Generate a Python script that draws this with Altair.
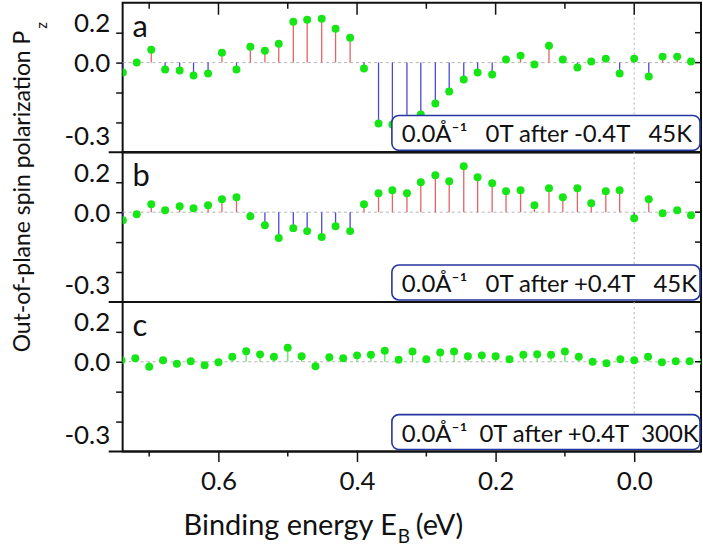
import altair as alt
import pandas as pd

# ---------------- data ----------------
energy_ab = [0.738, 0.718, 0.697, 0.677, 0.656, 0.636, 0.615, 0.595, 0.574, 0.554,
             0.533, 0.513, 0.492, 0.472, 0.451, 0.431, 0.410, 0.390, 0.369, 0.349,
             0.328, 0.308, 0.287, 0.267, 0.246, 0.226, 0.205, 0.185, 0.164, 0.144,
             0.123, 0.103, 0.082, 0.062, 0.041, 0.021, 0.000, -0.021, -0.041, -0.062,
             -0.082, -0.103]
pz_a = [-0.05, 0.0, 0.065, -0.035, -0.04, -0.065, -0.055, 0.05, -0.035, 0.08,
        0.06, 0.095, 0.205, 0.215, 0.22, 0.17, 0.125, -0.03, -0.305, -0.31,
        -0.30, -0.26, -0.205, -0.145, -0.085, -0.05, -0.06, 0.015, 0.035, -0.01,
        0.085, 0.015, -0.025, 0.005, 0.02, -0.055, 0.02, -0.07, 0.03, 0.03,
        0.005, 0.09]
pz_b = [-0.04, -0.01, 0.04, 0.01, 0.03, 0.02, 0.035, 0.065, 0.075, -0.02,
        -0.065, -0.13, -0.08, -0.095, -0.125, -0.07, -0.095, 0.04, 0.095, 0.11,
        0.095, 0.15, 0.185, 0.155, 0.23, 0.175, 0.145, 0.105, 0.11, 0.035,
        0.12, 0.075, 0.12, 0.045, 0.105, 0.11, -0.03, 0.065, -0.005, 0.01,
        -0.015, -0.01]
energy_c = [0.74, 0.72, 0.70, 0.68, 0.66, 0.64, 0.62, 0.60, 0.58, 0.56,
            0.54, 0.52, 0.50, 0.48, 0.46, 0.44, 0.42, 0.40, 0.38, 0.36,
            0.34, 0.32, 0.30, 0.28, 0.26, 0.24, 0.22, 0.20, 0.18, 0.16,
            0.14, 0.12, 0.10, 0.08, 0.06, 0.04, 0.02, 0.00, -0.02, -0.04,
            -0.06, -0.08, -0.10]
pz_c = [0.007, 0.017, -0.025, 0.007, -0.01, 0.002, -0.018, -0.003, 0.025, 0.053,
        0.037, 0.025, 0.07, 0.028, -0.023, 0.023, 0.018, 0.032, 0.035, 0.055,
        0.01, 0.052, 0.012, 0.047, 0.052, 0.028, 0.032, 0.028, 0.012, 0.035,
        0.038, 0.035, 0.052, 0.025, 0.0, -0.008, 0.013, 0.008, 0.025, -0.003,
        0.003, 0.003, 0.0]

x_major = [0.6, 0.4, 0.2, 0.0]
x_minor = [0.7, 0.5, 0.3, 0.1]
y_ticks = [0.15, 0.0, -0.15, -0.3]
y_label_values = [0.2, 0.0, -0.3]
y_label_texts = ["0.2", "0.0", "-0.3"]
fermi = [0.0]
panel_letters = ["a", "b", "c"]
GAP = "\u2002\u00a0"
GAP_C = "\u2002"
legend_texts = [
    "0.0Å⁻¹" + GAP + "0T after -0.4T" + GAP + "45K",
    "0.0Å⁻¹" + GAP + "0T after +0.4T" + GAP + "45K",
    "0.0Å⁻¹" + GAP_C + "0T after +0.4T" + GAP_C + "300K",
]
y_title = "Out-of-plane spin polarization P"
y_title_sub = "z"
x_title = "Binding energy E"
x_title_sub = "B"
x_title_end = "(eV)"

# ---------------- styling ----------------
W, H = 580, 150
FONT = "Lato"
GREEN = "#16e616"
RED = "#e26464"
BLUE = "#4b4bd6"
STEM_GREEN = "#62e462"

xscale = alt.Scale(domain=[-0.0964, 0.7383], reverse=True, nice=False, zero=False)
yscale = alt.Scale(domain=[-0.45, 0.3], nice=False, zero=False)

label_expr = " : ".join(
    f"datum.value == {v} ? '{t}'" for v, t in zip(y_label_values, y_label_texts)
) + " : ''"

yaxis = alt.Axis(
    values=[0.2] + y_ticks,
    labelExpr=label_expr,
    title=None, grid=False, domain=False,
    tickSize=7, tickWidth=1.5, tickColor="#111",
    tickOpacity={"condition": {"test": "datum.value == 0.2", "value": 0}, "value": 1},
    labelOffset={"condition": {"test": "datum.value < -0.2", "value": 14}, "value": 1},
    labelFont=FONT, labelFontSize=26, labelColor="#111", labelPadding=6,
    labelOverlap=False,
)
xaxis_bottom = alt.Axis(
    values=x_major, format=".1f", title=None, grid=False, domain=False,
    tickSize=10, tickWidth=1.5, tickColor="#111",
    labelFont=FONT, labelFontSize=26, labelColor="#111", labelPadding=7,
    labelFlush=False, labelOverlap=False,
)


def make_panel(i, energies, values, signed):
    is_bottom = i == 2
    xaxis = xaxis_bottom if is_bottom else None
    X = alt.X("E:Q", scale=xscale, axis=xaxis, title=None)
    Y = alt.Y("P:Q", scale=yscale, axis=yaxis, title=None)

    df = pd.DataFrame({"E": energies, "P": values})
    df["zero"] = 0.0
    df["sign"] = ["pos" if v >= 0 else "neg" for v in values]
    base = alt.Chart(df)

    layers = []
    layers.append(
        alt.Chart(pd.DataFrame({"P": [0.0]})).mark_rule(
            color="#b5b5b5", strokeDash=[3, 3], strokeWidth=1
        ).encode(y=Y, x=alt.value(0), x2=alt.value(W))
    )
    layers.append(
        alt.Chart(pd.DataFrame({"E": fermi})).mark_rule(
            color="#bcbcbc", strokeDash=[2, 3], strokeWidth=1.2
        ).encode(x=X, y=alt.value(0), y2=alt.value(H))
    )
    if signed:
        stems = base.mark_rule(strokeWidth=1.3, clip=True).encode(
            x=X, y=Y, y2=alt.Y2("zero:Q"),
            color=alt.Color("sign:N", scale=alt.Scale(domain=["pos", "neg"], range=[RED, BLUE]),
                            legend=None),
        )
    else:
        stems = base.mark_rule(strokeWidth=1.3, clip=True, color=STEM_GREEN).encode(
            x=X, y=Y, y2=alt.Y2("zero:Q"))
    layers.append(stems)
    layers.append(
        base.mark_circle(size=64, color=GREEN, opacity=1, clip=True).encode(x=X, y=Y)
    )
    # inward ticks on the right edge
    layers.append(
        alt.Chart(pd.DataFrame({"P": y_ticks})).mark_rule(color="#111", strokeWidth=1.5).encode(
            y=Y, x=alt.value(W - 6), x2=alt.value(W))
    )
    if i == 0:
        layers.append(
            alt.Chart(pd.DataFrame({"E": x_major})).mark_rule(color="#111", strokeWidth=1.5).encode(
                x=X, y=alt.value(0), y2=alt.value(12))
        )
        layers.append(
            alt.Chart(pd.DataFrame({"E": x_minor})).mark_rule(color="#111", strokeWidth=1.5).encode(
                x=X, y=alt.value(0), y2=alt.value(6))
        )
    if is_bottom:
        layers.append(
            alt.Chart(pd.DataFrame({"E": x_minor})).mark_rule(color="#111", strokeWidth=1.5).encode(
                x=X, y=alt.value(H), y2=alt.value(H + 5))
        )
    # legend box
    tdf = pd.DataFrame({"t": [legend_texts[i]], "l": [panel_letters[i]]})
    layers.append(
        alt.Chart(tdf).mark_rect(fill="white", stroke="#2436a2", strokeWidth=1.6,
                                 cornerRadius=7).encode(
            x=alt.value(270), x2=alt.value(579), y=alt.value(113), y2=alt.value(148))
    )
    layers.append(
        alt.Chart(tdf).mark_text(font=FONT, fontSize=24, color="#111", align="left",
                                 baseline="alphabetic").encode(
            x=alt.value(280), y=alt.value(140), text="t:N")
    )
    layers.append(
        alt.Chart(tdf).mark_text(font=FONT, fontSize=31, color="#111", align="left",
                                 baseline="alphabetic").encode(
            x=alt.value(10), y=alt.value(34), text="l:N")
    )
    # bottom border extending a little to the left
    layers.append(
        alt.Chart(tdf).mark_rule(color="#111", strokeWidth=2).encode(
            x=alt.value(-14), x2=alt.value(W), y=alt.value(H))
    )
    if i == 1:
        ydf = pd.DataFrame({"t": [y_title], "s": [y_title_sub]})
        layers.append(
            alt.Chart(ydf).mark_text(font=FONT, fontSize=23, color="#111", angle=270,
                                     align="right", baseline="alphabetic").encode(
                x=alt.value(-93), y=alt.value(-122), text="t:N")
        )
        layers.append(
            alt.Chart(ydf).mark_text(font=FONT, fontSize=15, color="#111", angle=270,
                                     align="left", baseline="alphabetic").encode(
                x=alt.value(-76), y=alt.value(-124), text="s:N")
        )
    if is_bottom:
        xdf = pd.DataFrame({"t": [x_title], "s": [x_title_sub], "e": [x_title_end]})
        layers.append(
            alt.Chart(xdf).mark_text(font=FONT, fontSize=29, color="#111", align="right",
                                     baseline="alphabetic").encode(
                x=alt.value(275), y=alt.value(H + 84), text="t:N")
        )
        layers.append(
            alt.Chart(xdf).mark_text(font=FONT, fontSize=19, color="#111", align="left",
                                     baseline="alphabetic").encode(
                x=alt.value(276), y=alt.value(H + 92), text="s:N")
        )
        layers.append(
            alt.Chart(xdf).mark_text(font=FONT, fontSize=29, color="#111", align="left",
                                     baseline="alphabetic").encode(
                x=alt.value(294), y=alt.value(H + 84), text="e:N")
        )
        # invisible anchor fixing the left edge of the canvas
        layers.append(
            alt.Chart(xdf).mark_rect(color="white", opacity=0).encode(
                x=alt.value(-122), x2=alt.value(-118), y=alt.value(0), y2=alt.value(4))
        )
    return alt.layer(*layers).properties(width=W, height=H)


panels = [
    make_panel(0, energy_ab, pz_a, True),
    make_panel(1, energy_ab, pz_b, True),
    make_panel(2, energy_c, pz_c, False),
]

chart = alt.vconcat(*panels, spacing=0, bounds="flush", padding=0).configure_view(
    stroke="#111", strokeWidth=2
)

chart.save("out.html", embed_options={"renderer": "svg", "actions": False})
